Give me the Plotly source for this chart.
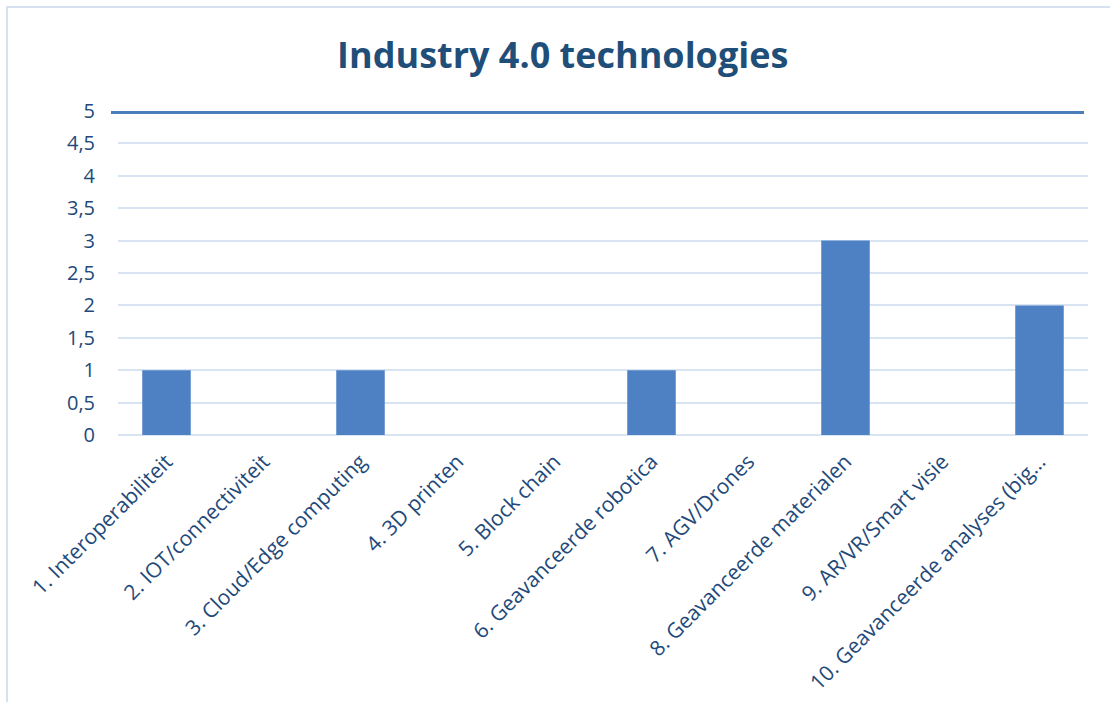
import plotly.graph_objects as go

categories = [
    "1. Interoperabiliteit",
    "2. IOT/connectiviteit",
    "3. Cloud/Edge computing",
    "4. 3D printen",
    "5. Block chain",
    "6. Geavanceerde robotica",
    "7. AGV/Drones",
    "8. Geavanceerde materialen",
    "9. AR/VR/Smart visie",
    "10. Geavanceerde analyses (big…",
]
values = [1, 0, 1, 0, 0, 1, 0, 3, 0, 2]
target = 5
y_ticks = [0, 0.5, 1, 1.5, 2, 2.5, 3, 3.5, 4, 4.5, 5]

TXT = "#22497A"
FONT = "Open Sans"

fig = go.Figure()
fig.add_trace(go.Bar(
    x=categories, y=values,
    marker=dict(color="#4D81C3", line=dict(width=0)),
    width=0.5,
))

W, H = 1110, 702
L, R, T, B = 118, 22, 111, 267
pw, ph = W - L - R, H - T - B

shapes = [
    dict(type="line", xref="paper", yref="y",
         x0=(111 - L) / pw, x1=(1084 - L) / pw, y0=target, y1=target,
         line=dict(color="#4A7EBB", width=6), layer="above"),
    dict(type="rect", xref="paper", yref="paper",
         x0=(7 - L) / pw, x1=(1130 - L) / pw,
         y0=-(720 - T - ph) / ph, y1=(ph + T - 7) / ph,
         line=dict(color="#D6E1F1", width=2), layer="below"),
]

fig.update_layout(
    width=W, height=H,
    margin=dict(l=L, r=R, t=T, b=B, autoexpand=False),
    paper_bgcolor="white", plot_bgcolor="white",
    separators=",.",
    showlegend=False,
    title=dict(text="<b>Industry 4.0 technologies</b>", x=0.507, xanchor="center",
               y=1 - 55 / H, yanchor="middle",
               font=dict(family=FONT, size=36, color="#1F4E79")),
    font=dict(family=FONT, color=TXT),
    xaxis=dict(tickangle=-45, tickfont=dict(size=21, color=TXT), showgrid=False,
               showline=False, ticks="outside", ticklen=5, tickcolor="rgba(0,0,0,0)",
               automargin=False),
    yaxis=dict(range=[0, 5], tickvals=y_ticks, tickfont=dict(size=20, color=TXT),
               showgrid=True, gridcolor="#D9E4F3", gridwidth=1.5,
               zeroline=True, zerolinecolor="#D9E4F3", zerolinewidth=1.5,
               showline=False, ticks="", ticklabelstandoff=22, automargin=False),
    shapes=shapes,
    bargap=0.5,
)

fig.write_html("out.html")
